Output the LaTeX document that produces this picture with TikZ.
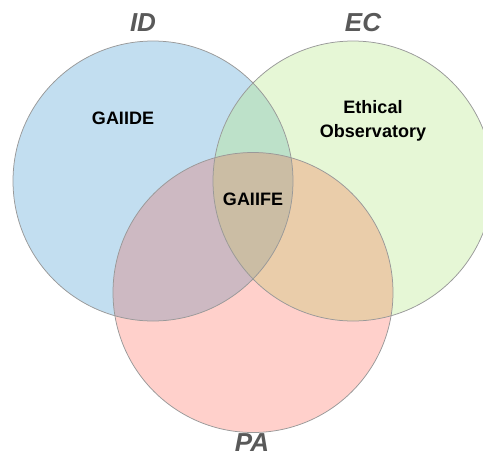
\documentclass[tikz,border=0pt]{standalone}
\usepackage{fontspec}
\setmainfont{Liberation Sans}
\definecolor{cBlue}{HTML}{C2DEF0}
\definecolor{cGreen}{HTML}{E6F7D6}
\definecolor{cPink}{HTML}{FFD0CB}
\definecolor{cBG}{HTML}{BDE1C9}
\definecolor{cBP}{HTML}{CDB9C2}
\definecolor{cGP}{HTML}{EACDAA}
\definecolor{cAll}{HTML}{CBBDA4}
\definecolor{ringgray}{HTML}{999999}
\definecolor{labelgray}{HTML}{595959}
\tikzset{
  setlabel/.style={font=\fontsize{26}{30}\selectfont\bfseries\itshape, text=labelgray, inner sep=0pt},
  regtext/.style={font=\fontsize{18}{24}\selectfont\bfseries, text=black, inner sep=0pt, align=center},
  ring/.style={draw=ringgray, line width=0.75pt}
}
\begin{document}
\begin{tikzpicture}[x=1pt,y=-1pt]
\useasboundingbox (0,0) rectangle (483,458);
\clip (0,0) rectangle (483,458);
% base fills
\fill[cBlue] (153,181) circle[radius=140];
\fill[cGreen] (353,181) circle[radius=140];
\fill[cPink] (253,292.5) circle[radius=140];
% pairwise overlaps
\begin{scope}
  \clip (153,181) circle[radius=140];
  \fill[cBG] (353,181) circle[radius=140];
\end{scope}
\begin{scope}
  \clip (153,181) circle[radius=140];
  \fill[cBP] (253,292.5) circle[radius=140];
\end{scope}
\begin{scope}
  \clip (353,181) circle[radius=140];
  \fill[cGP] (253,292.5) circle[radius=140];
\end{scope}
\begin{scope}
  \clip (153,181) circle[radius=140];
  \clip (353,181) circle[radius=140];
  \fill[cAll] (253,292.5) circle[radius=140];
\end{scope}
% outlines
\draw[ring] (153,181) circle[radius=140];
\draw[ring] (353,181) circle[radius=140];
\draw[ring] (253,292.5) circle[radius=140];
% set labels
\node[setlabel] (lid) at (143,22.5) {ID};
\node[setlabel] (lec) at (363,22.5) {EC};
\node[setlabel] (lpa) at (252,443) {PA};
% region texts
\node[regtext] (gaiide) at (123,118.5) {GAIIDE};
\node[regtext] (ethobs) at (373,120.5) {Ethical\\Observatory};
\node[regtext] (gaiife) at (253,199.5) {GAIIFE};
\end{tikzpicture}
\end{document}
